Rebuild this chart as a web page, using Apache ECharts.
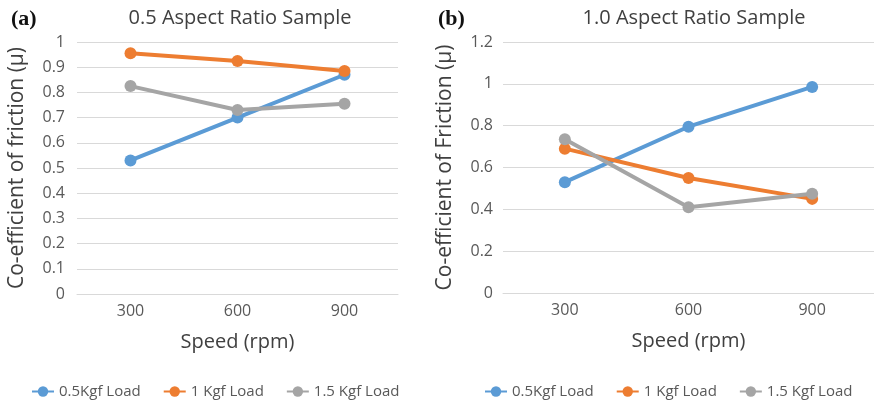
<!DOCTYPE html>
<html>
<head>
<meta charset="utf-8">
<script src="https://cdn.jsdelivr.net/npm/echarts@6/dist/echarts.min.js"></script>
<style>
  html, body { margin: 0; padding: 0; background: #fff; }
  #chart { width: 874px; height: 405px; }
</style>
</head>
<body>
<div id="chart"></div>
<script>
// data
const speeds = ['300', '600', '900']
const seriesNames = ['0.5Kgf Load', '1 Kgf Load', '1.5 Kgf Load']
const colors = ['#5B9BD5', '#ED7D31', '#A5A5A5']

// (a) 0.5 aspect ratio
const ratio05Load05 = [0.53, 0.70, 0.87]
const ratio05Load1 = [0.955, 0.925, 0.885]
const ratio05Load15 = [0.825, 0.73, 0.755]

// (b) 1.0 aspect ratio
const ratio10Load05 = [0.53, 0.795, 0.985]
const ratio10Load1 = [0.69, 0.55, 0.45]
const ratio10Load15 = [0.735, 0.41, 0.475]

const font = '"Open Sans", sans-serif'
const textColor = '#595959'

const chart = echarts.init(document.getElementById('chart'))

const makeSeries = (values, idx, axisIdx) => {
  return {
    name: seriesNames[idx],
    type: 'line',
    xAxisIndex: axisIdx,
    yAxisIndex: axisIdx,
    data: values,
    symbol: 'circle',
    symbolSize: 12,
    lineStyle: { width: 4, color: colors[idx] },
    itemStyle: { color: colors[idx] },
    z: idx === 0 ? 2 : 3
  }
}

const yAxisBase = {
  type: 'value',
  axisLine: { show: false },
  axisTick: { show: false },
  splitLine: { lineStyle: { color: '#D9D9D9', width: 1 } },
  axisLabel: { color: textColor, fontSize: 16, fontFamily: font },
  nameLocation: 'middle',
  nameTextStyle: { color: '#404040', fontSize: 21, fontFamily: font }
}

const xAxisBase = {
  type: 'category',
  data: speeds,
  boundaryGap: true,
  axisLine: { show: true, lineStyle: { color: '#D9D9D9' } },
  axisTick: { show: false },
  axisLabel: { color: textColor, fontSize: 16, fontFamily: font, margin: 9 },
  name: 'Speed (rpm)',
  nameLocation: 'middle',
  nameGap: 38,
  nameTextStyle: { color: '#404040', fontSize: 20, fontFamily: font }
}

const legendBase = {
  bottom: 1,
  itemWidth: 22,
  itemHeight: 13,
  itemGap: 22,
  textStyle: { color: textColor, fontSize: 15, fontFamily: font },
  data: seriesNames
}

const option = {
  animation: false,
  title: [
    { text: '(a)', left: 6, top: 3, textStyle: { fontFamily: 'Liberation Serif, serif', fontWeight: 'bold', fontSize: 22, color: '#111' } },
    { text: '0.5 Aspect Ratio Sample', left: 235, top: 3, textAlign: 'center', textStyle: { fontFamily: font, fontWeight: 'normal', fontSize: 20, color: '#404040' } },
    { text: '(b)', left: 433, top: 3, textStyle: { fontFamily: 'Liberation Serif, serif', fontWeight: 'bold', fontSize: 22, color: '#111' } },
    { text: '1.0 Aspect Ratio Sample', left: 689, top: 3, textAlign: 'center', textStyle: { fontFamily: font, fontWeight: 'normal', fontSize: 20, color: '#404040' } }
  ],
  legend: [
    Object.assign({}, legendBase, { left: 26 }),
    Object.assign({}, legendBase, { left: 479 })
  ],
  grid: [
    { left: 77, width: 321, top: 42, height: 252 },
    { left: 503, width: 371, top: 42, height: 251 }
  ],
  xAxis: [
    Object.assign({}, xAxisBase, { gridIndex: 0 }),
    Object.assign({}, xAxisBase, { gridIndex: 1 })
  ],
  yAxis: [
    Object.assign({}, yAxisBase, {
      gridIndex: 0, min: 0, max: 1, interval: 0.1,
      name: 'Co-efficient of friction (μ)', nameGap: 49,
      axisLabel: Object.assign({}, yAxisBase.axisLabel, { margin: 12 })
    }),
    Object.assign({}, yAxisBase, {
      gridIndex: 1, min: 0, max: 1.2, interval: 0.2,
      name: 'Co-efficient of Friction (μ)', nameGap: 47,
      axisLabel: Object.assign({}, yAxisBase.axisLabel, { margin: 10 })
    })
  ],
  series: [
    makeSeries(ratio05Load05, 0, 0),
    makeSeries(ratio05Load1, 1, 0),
    makeSeries(ratio05Load15, 2, 0),
    makeSeries(ratio10Load05, 0, 1),
    makeSeries(ratio10Load1, 1, 1),
    makeSeries(ratio10Load15, 2, 1)
  ]
}

chart.setOption(option)
</script>
</body>
</html>
